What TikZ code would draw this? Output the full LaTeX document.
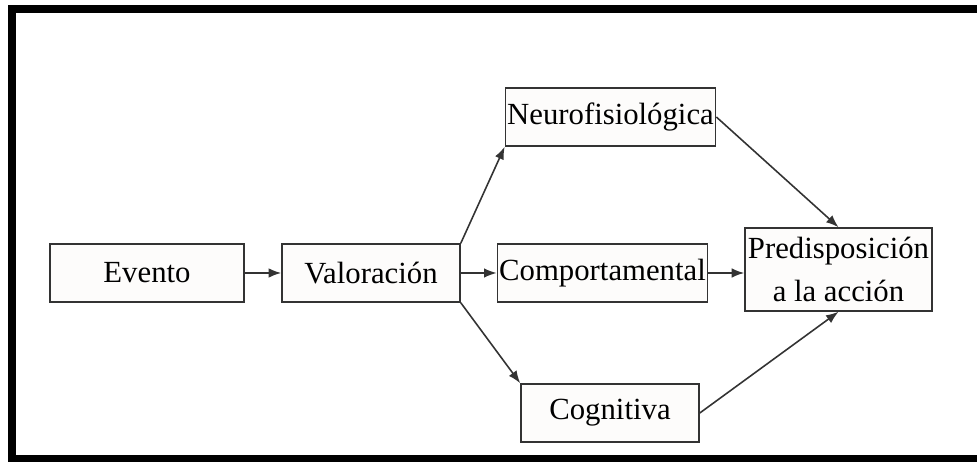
\documentclass[tikz,border=0pt]{standalone}
\usepackage{fontspec}
\setmainfont{Liberation Serif}
\usepackage{tikz}
\usetikzlibrary{positioning,arrows.meta,calc}
\definecolor{borde}{HTML}{333333}
\definecolor{relleno}{HTML}{FDFCFB}
\tikzset{
  caja/.style  ={rectangle, draw=borde, fill=relleno, line width=0.9pt,
                 inner sep=1pt, minimum height=1.16cm,
                 font=\fontsize{17.5}{20}\selectfont, align=center},
  % one arrow between two boxes
  flecha/.style={draw=borde, line width=0.9pt,
                 -{Latex[length=2.5mm,width=1.9mm]}},
  marco/.style ={fill=black},
}
\begin{document}
\begin{tikzpicture}[x=0.02cm,y=-0.02cm]
\useasboundingbox (0,0) rectangle (977,462);
% frame, cut on the right
\fill[marco] (8,5) rectangle (16,462);
\fill[marco] (8,5) rectangle (977,13);
\fill[marco] (8,455) rectangle (977,462);
\foreach \n/\x/\y/\w/\t in {%
   evento/147/273/194/Evento, valor/371/273/178/Valoración,
   neuro/610.5/117/209/Neurofisiológica, comport/602.5/273/209/Comportamental,
   cogn/610/413/178/Cognitiva}
  {\node[caja,minimum width=\w*0.02cm] (\n) at (\x,\y) {\t};}
\node[caja,minimum width=3.74cm,minimum height=1.66cm] (predis) at (838.5,269.5)
  {Predisposición\\[4pt] a la acción};
\draw[flecha] (evento) -- (valor);
\draw[flecha] (valor.north east) -- (neuro.south west);
\draw[flecha] (valor) -- (comport);
\draw[flecha] (valor.south east) -- (cogn.north west);
\draw[flecha] (comport.east) -- (comport.east -| predis.west);
\draw[flecha] (neuro.east) -- (predis.north);
\draw[flecha] (cogn.east) -- (predis.south);
\end{tikzpicture}
\end{document}
